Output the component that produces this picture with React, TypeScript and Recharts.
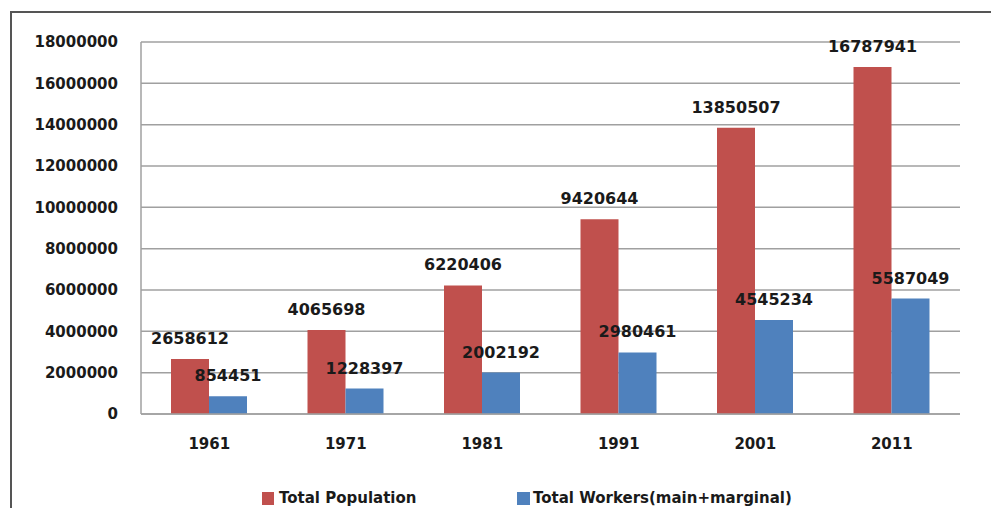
import React from "react";
import { BarChart, Bar, XAxis, YAxis, CartesianGrid, LabelList, Legend } from "recharts";

const years = ["1961", "1971", "1981", "1991", "2001", "2011"];
const totalPopulation = [2658612, 4065698, 6220406, 9420644, 13850507, 16787941];
const totalWorkers = [854451, 1228397, 2002192, 2980461, 4545234, 5587049];
const yTicks = [0, 2000000, 4000000, 6000000, 8000000, 10000000, 12000000, 14000000, 16000000, 18000000];

const POP_NAME = "Total Population";
const WORK_NAME = "Total Workers(main+marginal)";
const RED = "#C0504D";
const BLUE = "#4F81BD";
const FONT = "'DejaVu Sans', sans-serif";

const data = years.map((y, i) => ({ year: y, pop: totalPopulation[i], workers: totalWorkers[i] }));

const LegendContent = () => (
  <div style={{ position: "relative", width: 991, height: 24, fontFamily: FONT, fontWeight: 700, fontSize: 15, color: "#1a1a1a" }}>
    <div style={{ position: "absolute", left: 262, top: 5, display: "flex", alignItems: "center" }}>
      <span style={{ display: "inline-block", width: 12, height: 13, background: RED, marginRight: 5 }} />
      <span>{POP_NAME}</span>
    </div>
    <div style={{ position: "absolute", left: 517, top: 5, display: "flex", alignItems: "center" }}>
      <span style={{ display: "inline-block", width: 13, height: 13, background: BLUE, marginRight: 3 }} />
      <span>{WORK_NAME}</span>
    </div>
  </div>
);

export default function App() {
  return (
    <div style={{ position: "absolute", left: 0, top: 0, width: 991, height: 508, background: "#fff", overflow: "hidden" }}>
      <div style={{ position: "absolute", left: 10, top: 11, width: 991, height: 508, borderTop: "2px solid #555", borderLeft: "2px solid #555" }} />
      <BarChart
        width={991}
        height={508}
        data={data}
        margin={{ top: 42, right: 31, left: 10, bottom: 0 }}
        barCategoryGap={30}
        barGap={0}
        style={{ position: "absolute", left: 0, top: 0 }}
      >
        <CartesianGrid vertical={false} stroke="#a0a0a0" strokeWidth={1.5} />
        <XAxis
          dataKey="year"
          height={70}
          tickLine={false}
          tickSize={0}
          tickMargin={24}
          axisLine={{ stroke: "#a0a0a0", strokeWidth: 1.5 }}
          tick={{ fontFamily: FONT, fontWeight: 700, fontSize: 15, fill: "#1a1a1a" }}
        />
        <YAxis
          width={131}
          domain={[0, 18000000]}
          ticks={yTicks}
          interval={0}
          tickLine={false}
          tickSize={0}
          tickMargin={23}
          axisLine={{ stroke: "#a0a0a0", strokeWidth: 1.5 }}
          tick={{ fontFamily: FONT, fontWeight: 700, fontSize: 15, fill: "#1a1a1a" }}
        />
        <Legend verticalAlign="bottom" content={<LegendContent />} wrapperStyle={{ left: 0, bottom: 0, width: 991, height: 24 }} />
        <Bar dataKey="pop" name={POP_NAME} fill={RED} isAnimationActive={false}>
          <LabelList dataKey="pop" position="top" offset={15} style={{ fontFamily: FONT, fontWeight: 700, fontSize: 16, fill: "#1a1a1a" }} />
        </Bar>
        <Bar dataKey="workers" name={WORK_NAME} fill={BLUE} isAnimationActive={false}>
          <LabelList dataKey="workers" position="top" offset={15} style={{ fontFamily: FONT, fontWeight: 700, fontSize: 16, fill: "#1a1a1a" }} />
        </Bar>
      </BarChart>
    </div>
  );
}
